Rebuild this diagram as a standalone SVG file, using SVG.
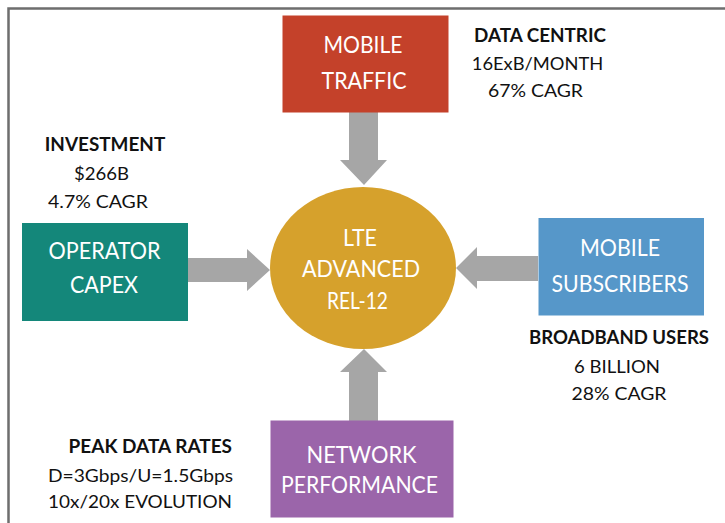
<svg xmlns="http://www.w3.org/2000/svg" width="725" height="523" viewBox="0 0 725 523">
<style>
.lbl{font-family:Lato,"Open Sans","Liberation Sans",sans-serif;font-size:22.5px;fill:#ffffff;text-anchor:middle}
.side{font-family:Lato,"Open Sans","Liberation Sans",sans-serif;font-size:18px;fill:#111111}
.b{font-weight:bold}
.arr{fill:#a6a6a6}
</style>
<rect width="725" height="523" fill="#ffffff"/>
<path d="M8.5 523 V8.5 H725" fill="none" stroke="#6e6e6e" stroke-width="2.5"/>
<g id="connectors">
<polygon class="arr" points="349,112 378,112 378,160 387,160 364,185 340,160 349,160"/>
<polygon class="arr" points="188,258 247,258 247,249 270,270 247,291 247,282 188,282"/>
<polygon class="arr" points="538,256 477,256 477,247 456,268 477,289 477,281 538,281"/>
<polygon class="arr" points="349,421 378,421 378,372 387,372 364,349 340,372 349,372"/>
</g>
<g id="mobile-traffic">
<rect x="282.5" y="15.5" width="166" height="97" fill="#c4412a"/>
<text class="lbl" x="363" y="53" textLength="79" lengthAdjust="spacingAndGlyphs">MOBILE</text>
<text class="lbl" x="364" y="89" textLength="85" lengthAdjust="spacingAndGlyphs">TRAFFIC</text>
</g>
<g id="lte-advanced">
<ellipse cx="363" cy="268" rx="93" ry="81" fill="#d6a12c"/>
<text class="lbl" x="360" y="246" textLength="34" lengthAdjust="spacingAndGlyphs">LTE</text>
<text class="lbl" x="361" y="277" textLength="118" lengthAdjust="spacingAndGlyphs">ADVANCED</text>
<text class="lbl" x="357.5" y="309" textLength="61" lengthAdjust="spacingAndGlyphs">REL-12</text>
</g>
<g id="operator-capex">
<rect x="22" y="223" width="166" height="98" fill="#14877a"/>
<text class="lbl" x="104.5" y="258.5" textLength="112" lengthAdjust="spacingAndGlyphs">OPERATOR</text>
<text class="lbl" x="104" y="293" textLength="68" lengthAdjust="spacingAndGlyphs">CAPEX</text>
</g>
<g id="mobile-subscribers">
<rect x="538.5" y="218" width="165.5" height="97.5" fill="#5697c9"/>
<text class="lbl" x="620" y="256" textLength="80" lengthAdjust="spacingAndGlyphs">MOBILE</text>
<text class="lbl" x="620" y="291.5" textLength="137" lengthAdjust="spacingAndGlyphs">SUBSCRIBERS</text>
</g>
<g id="network-performance">
<rect x="270.5" y="420.5" width="183" height="97" fill="#9b65aa"/>
<text class="lbl" x="361.5" y="462.5" textLength="110" lengthAdjust="spacingAndGlyphs">NETWORK</text>
<text class="lbl" x="359.5" y="493" textLength="157" lengthAdjust="spacingAndGlyphs">PERFORMANCE</text>
</g>
<g id="data-centric" text-anchor="middle">
<text class="side b" x="540" y="41.5" textLength="132" lengthAdjust="spacingAndGlyphs">DATA CENTRIC</text>
<text class="side" x="537.5" y="70" textLength="131.5" lengthAdjust="spacingAndGlyphs">16ExB/MONTH</text>
<text class="side" x="535.5" y="96.5" textLength="95" lengthAdjust="spacingAndGlyphs">67% CAGR</text>
</g>
<g id="investment" text-anchor="middle">
<text class="side b" x="105" y="151" textLength="120.5" lengthAdjust="spacingAndGlyphs">INVESTMENT</text>
<text class="side" x="101.5" y="180" textLength="55" lengthAdjust="spacingAndGlyphs">$266B</text>
<text class="side" x="98" y="208" textLength="100" lengthAdjust="spacingAndGlyphs">4.7% CAGR</text>
</g>
<g id="broadband-users" text-anchor="middle">
<text class="side b" x="619" y="344" textLength="180" lengthAdjust="spacingAndGlyphs">BROADBAND USERS</text>
<text class="side" x="617" y="373" textLength="86" lengthAdjust="spacingAndGlyphs">6 BILLION</text>
<text class="side" x="619" y="400" textLength="95" lengthAdjust="spacingAndGlyphs">28% CAGR</text>
</g>
<g id="peak-data-rates" text-anchor="end">
<text class="side b" x="232" y="453" textLength="163.5" lengthAdjust="spacingAndGlyphs">PEAK DATA RATES</text>
<text class="side" x="233" y="481.5" textLength="185" lengthAdjust="spacingAndGlyphs">D=3Gbps/U=1.5Gbps</text>
<text class="side" x="232" y="508" textLength="184" lengthAdjust="spacingAndGlyphs">10x/20x EVOLUTION</text>
</g>
</svg>
